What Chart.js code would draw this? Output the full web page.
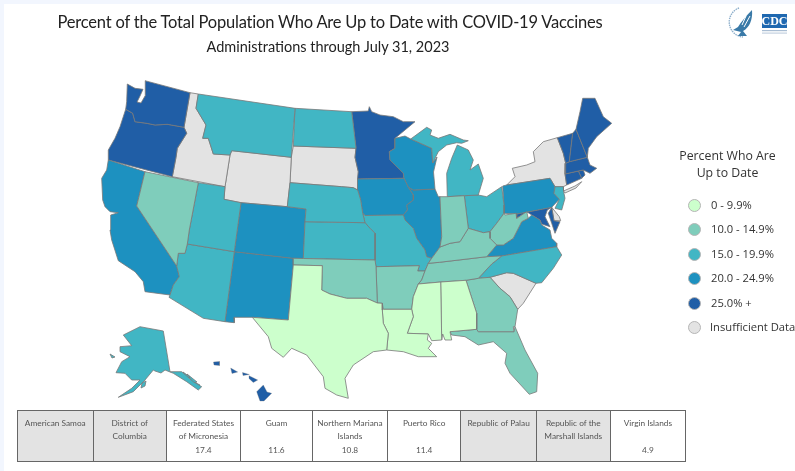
<!DOCTYPE html>
<html>
<head>
<meta charset="utf-8">
<title>Percent Up to Date</title>
<script src="https://cdn.jsdelivr.net/npm/chart.js@4"></script>
<style>
  html, body { margin: 0; padding: 0; background: #f2f6fe; overflow: hidden; }
  #page { position: absolute; left: 4px; top: 4px; width: 791px; height: 467px; background: #fff; }
  #wrap { position: absolute; left: -4px; top: -4px; width: 795px; height: 471px; }
  .t { position: absolute; white-space: nowrap; color: #222; }
  #title { left: 0; top: 12px; width: 660px; text-align: center; font: 16.5px Lato, sans-serif; letter-spacing: -0.2px; }
  #subtitle { left: 0; top: 38px; width: 656px; text-align: center; font: 14.5px Lato, sans-serif; }
  #legendTitle { left: 660px; top: 147px; width: 135px; text-align: center; font: 12.3px/17px "Open Sans", sans-serif; color: #333; }
  .dot { position: absolute; width: 11px; height: 11px; border-radius: 50%; border: 1px solid #b5b5b5; }
  .lab { position: absolute; font: 11.2px "Open Sans", sans-serif; color: #333; white-space: nowrap; }
  #terr { position: absolute; left: 17px; top: 410px; border-collapse: collapse; table-layout: fixed; width: 668px; height: 52px; font: 8.3px Lato, sans-serif; color: #555; }
  #terr td { border: 1.5px solid #666; text-align: center; vertical-align: top; padding: 6px 2px 0; position: relative; line-height: 12.5px; }
  #terr td.none { background: #e3e3e3; }
  #terr span { position: absolute; left: 0; right: 0; bottom: 5px; }
</style>
</head>
<body>
<div id="page"><div id="wrap">
  <canvas id="mapChart" width="795" height="471"></canvas>
  <div class="t" id="title">Percent of the Total Population Who Are Up to Date with COVID-19 Vaccines</div>
  <div class="t" id="subtitle">Administrations through July 31, 2023</div>
  <svg style="position:absolute;left:724px;top:5px" width="66" height="36" viewBox="0 0 66 36">
    <path d="M15 3 A15 15 0 0 0 19 32" fill="none" stroke="#8fb0cc" stroke-width="1.4" stroke-dasharray="1.5 0.8"/>
    <path d="M28 5 C22 11 17 17 14 22 L9 25 L17 27 L14 31 L23 31 L19 26 C25 23 29 15 28 5Z" fill="#3a7aa8"/>
    <path d="M22 11 L18 20 M26 11 L20 22" stroke="#fff" stroke-width="1"/>
    <rect x="38" y="9" width="25" height="14" fill="#1f68b0"/>
    <text x="50.5" y="20" text-anchor="middle" font-family="Liberation Serif" font-weight="bold" font-size="12" fill="#fff">CDC</text>
    <rect x="38" y="25" width="25" height="1.2" fill="#a9bdd3"/>
    <rect x="38" y="27.5" width="25" height="1.2" fill="#c3d1e0"/>
  </svg>
  <div class="t" id="legendTitle">Percent Who Are<br>Up to Date</div>
  <div id="legend"></div>
  <table id="terr"><colgroup id="cols"></colgroup><tr id="terrRow"></tr></table>
</div></div>
<script>
// Legend bins
const binLabels = ["0 - 9.9%", "10.0 - 14.9%", "15.0 - 19.9%", "20.0 - 24.9%", "25.0% +", "Insufficient Data"];
const binColors = ["#ccffcc", "#7fcdbb", "#41b6c4", "#1d91c0", "#205ea6", "#e3e3e3"];

// Territories table
const territories = ["American Samoa", "District of Columbia", "Federated States of Micronesia", "Guam", "Northern Mariana Islands", "Puerto Rico", "Republic of Palau", "Republic of the Marshall Islands", "Virgin Islands"];
const territoryValues = [null, null, 17.4, 11.6, 10.8, 11.4, null, null, 4.9];

// State outlines
const WA = [[145,80.7],[190,92.7],[184,127.3],[167.3,124.3],[155,125],[146.7,123.3],[135,121.7],[132.7,113.3],[125.7,109.3],[126.7,101.7],[127.3,84],[135,88.3],[143,89.3],[140,96],[137,102],[141,103],[145,96],[145.5,88]];
const OR = [[125.7,109.3],[132.7,113.3],[135,121.7],[146.7,123.3],[155,125],[167.3,124.3],[184,127.3],[186.7,133.3],[177.3,148.3],[176,157.3],[172.3,176.7],[108.3,160],[108.3,150],[115,138.3],[120,126.7]];
const ID = [[190,92.7],[198.3,94],[196,108.3],[206,125],[202.7,138.3],[208.3,138.3],[213.3,154],[230,155],[225,186.7],[172.3,176.7],[176,157.3],[177.3,148.3],[186.7,133.3],[184,127.3]];
const MT = [[198.3,94],[295,108.3],[291.3,157.3],[231.7,150.7],[230,155],[213.3,154],[208.3,138.3],[202.7,138.3],[206,125],[196,108.3]];
const ND = [[295,108.3],[351.7,111.7],[353.3,125],[356,148.3],[293.3,146]];
const SD = [[293.3,146],[356,148.3],[355,157.3],[358.3,171.7],[357.7,190],[353.3,187.7],[341.7,186.7],[290,182.7],[291.3,157.3]];
const WY = [[231.7,150.7],[291.3,157.3],[290,182.7],[287.3,206.7],[241,202.7],[224,199.3],[225,186.7],[230,155]];
const NV = [[145,171.7],[198.3,182.7],[189.3,230],[187.3,244],[185,253.3],[178.3,253.3],[176.7,266],[136.7,206]];
const CA = [[108.3,160],[145,171.7],[136.7,206],[176.7,266],[179.3,276.7],[173.3,285],[170,295],[145,291.7],[143.3,281.7],[135,271.7],[118.3,260.7],[111.7,240],[110,230],[110.7,215],[118.3,212.7],[110,211.7],[105,206.7],[102.7,200],[101.7,178.3],[106.7,170]];
const AZ = [[187.3,244],[234.3,251.7],[225,321.7],[203.3,318.3],[169,297.3],[170,295],[173.3,285],[179.3,276.7],[176.7,266],[178.3,253.3],[185,253.3]];
const UT = [[198.3,182.7],[225,186.7],[224,199.3],[241,202.7],[234.3,251.7],[187.3,244],[189.3,230]];
const CO = [[241,202.7],[287.3,206.7],[306,209],[305,221.7],[303.3,258.5],[293.3,258.3],[234.3,251.7]];
const NM = [[234.3,251.7],[293.3,258.3],[293.3,265],[288.3,320],[252.3,317.3],[234,317.3],[234.3,322.7],[225,321.7]];
const TX = [[293.3,265],[322.3,265.7],[321.7,290],[330,294],[346.7,298.3],[366.7,298.3],[377.3,303],[382.3,303.3],[382.3,310],[383.3,323.3],[388.3,333.3],[386.7,350],[373.3,351.7],[353.3,365],[345,378.3],[348.3,398.3],[336.7,395],[325,388.3],[323.3,376.7],[306.7,355],[291.7,348.3],[283.3,357.3],[271.7,348.3],[268.3,336.7],[252.3,317.3],[288.3,320]];
const OK = [[293.3,258.3],[303.3,258.5],[375,260],[376,266.7],[377.3,303],[366.7,298.3],[346.7,298.3],[330,294],[321.7,290],[322.3,265.7],[293.3,265]];
const KS = [[305,221.7],[365,222.7],[370,228.3],[375,233.3],[375,260],[303.3,258.5]];
const NE = [[290,182.7],[341.7,186.7],[353.3,187.7],[357.7,190],[360.7,200],[362.7,213.3],[365,222.7],[305,221.7],[306,209],[287.3,206.7]];
const MN = [[351.7,111.7],[368.3,111],[369.3,106.7],[371.7,111.7],[380,115],[393.3,116.7],[403.3,121.7],[415,121.7],[395,138.3],[395,148.3],[389.3,151.7],[390,160],[403.3,173.3],[404,178.3],[357.5,179],[358.3,171.7],[355,157.3],[356,148.3],[353.3,125]];
const IA = [[357.5,179],[404,178.3],[408.3,187.3],[413.3,195],[413.3,200],[406.7,205],[407.3,210],[403.3,215],[365,215.5],[362.7,213.3],[360.7,200],[357.7,190]];
const WI = [[395,138.3],[405,136],[410.7,139],[431.7,148.3],[432.7,163],[437,157],[433.5,172],[435,189],[413.3,190],[408.3,187.3],[404,178.3],[403.3,173.3],[390,160],[389.3,151.7],[395,148.3]];
const MI_U = [[410.7,139],[426.7,127.3],[431.7,130],[430,135],[438.3,138.3],[450,134.3],[463.3,140],[468.3,140.7],[461.7,143.3],[456.7,142.7],[446.7,145],[438.3,151.7],[432.7,163],[431.7,148.3]];
const MI_L = [[447.3,196.7],[446.7,173.3],[451.7,158.3],[457.3,145],[468.3,150],[473.3,160],[470,170],[478.3,164],[483.3,178.3],[478.3,195],[464.3,195.7]];
const OH = [[464.3,195.7],[478.3,195],[486.7,196.7],[501.7,186.7],[504,205],[504,213.3],[496.7,223.3],[490,231.7],[483.3,232.7],[468.3,228.3]];
const IN = [[440,196.7],[447.3,196.7],[464.3,195.7],[468.3,228.3],[460,241.7],[450,243.3],[440,247],[441.7,236.7]];
const IL = [[413.3,190],[435,189],[438.3,196.7],[440,196.7],[441.7,236.7],[440,247],[431.7,258.3],[426.7,256.7],[425,250],[416.7,238.3],[413.3,228.3],[405,220],[403.3,215],[407.3,210],[406.7,205],[413.3,200],[413.3,195],[408.3,187.3]];
const MO = [[365,215.5],[403.3,215],[405,220],[413.3,228.3],[416.7,238.3],[425,250],[426.7,256.7],[431.7,258.3],[428.3,263.3],[425,271],[417.7,271],[419.3,265.7],[376,266.7],[375,260],[375,233.3],[370,228.3],[365,222.7],[362.7,213.3]];
const AR = [[376,266.7],[419.3,265.7],[417.7,271],[425,271],[421.7,280],[418.3,284],[413.3,296.7],[411.7,309.3],[383.3,309.3],[382.3,303.3],[377.3,303]];
const LA = [[382.3,310],[383.3,309.3],[411.7,309.3],[413.3,316.7],[407.3,333.3],[428.3,334],[427.3,340],[431.7,343.3],[428.3,348.3],[436.7,356.7],[418.3,356.7],[403.3,351.7],[386.7,350],[388.3,333.3],[383.3,323.3]];
const MS = [[418.3,284],[440.7,282],[441.7,340],[431.7,340.7],[428.3,334],[407.3,333.3],[413.3,316.7],[411.7,309.3],[413.3,296.7]];
const AL = [[440.7,282],[466,280.3],[476.7,313.3],[476.7,329.3],[450,331.7],[451.7,340],[445,340],[442.7,334],[441.7,340]];
const TN = [[425,271],[428.3,263.3],[439.3,262.3],[486.7,256.7],[501.7,256],[491.7,264],[478.3,278.3],[466,280.3],[440.7,282],[418.3,284],[421.7,280]];
const KY = [[428.3,263.3],[431.7,258.3],[440,247],[450,243.3],[460,241.7],[468.3,228.3],[483.3,232.7],[490,231.7],[490,238.3],[496.7,245],[486.7,256.7],[439.3,262.3]];
const WV = [[490,231.7],[496.7,223.3],[504,213.3],[505,215],[516,213.3],[516.7,218.3],[526.7,211.7],[528.3,218.3],[521.7,221.7],[513.3,238.3],[503.3,245],[496.7,245],[490,238.3]];
const VA = [[486.7,256.7],[496.7,245],[503.3,245],[513.3,238.3],[521.7,221.7],[528.3,218.3],[531.7,215],[540,220],[541.7,225],[550,230],[551.7,238.3],[556.7,243.3],[556.7,246.7],[501.7,256]];
const NC = [[556.7,246.7],[561.7,255],[553.3,268.3],[541.7,282.7],[536,283.3],[513.3,273.3],[506.7,272.7],[490,277.3],[478.3,278.3],[491.7,264],[501.7,256]];
const SC = [[490,277.3],[506.7,272.7],[513.3,273.3],[536,283.3],[523.3,303.3],[517.7,309.3],[510,296.7],[500,288.3]];
const GA = [[466,280.3],[478.3,278.3],[490,277.3],[500,288.3],[510,296.7],[517.7,309.3],[515,326.7],[513.3,326.7],[514,331.7],[478.3,331.7],[476.7,329.3],[476.7,313.3]];
const FL = [[450,331.7],[476.7,329.3],[478.3,331.7],[514,331.7],[515,326.7],[525,350],[537.7,373.3],[536.7,391.7],[529.3,394.3],[510,373.3],[505,363.3],[506.7,353.3],[493.3,341.7],[478.3,345],[465,336.7],[451.7,335]];
const PA = [[502.7,186],[506.7,185],[550,178.3],[555,186.7],[554,193.3],[559.3,199.3],[551.7,207.3],[516.7,214],[504,213.3],[504,205]];
const NY = [[506.7,185],[515,176.7],[512.3,168.3],[526.7,165],[535,161.7],[533.3,151.7],[543.3,141.7],[557.3,137.7],[563.3,153.3],[565.7,163.3],[565,174],[566.7,185],[563.3,186.7],[555,186.7],[550,178.3]];
const NY_LI = [[563.5,191],[575,186],[581.7,181.7],[576,188],[565,193]];
const NJ = [[555,186.7],[563.3,186.7],[563.5,191],[565,198.3],[561.7,210],[555,208.3],[559.3,199.3],[554,193.3]];
const VT = [[557.3,137.7],[572.7,133.3],[569.3,161.7],[565.7,163.3],[563.3,153.3]];
const NH = [[572.7,133.3],[576,129.3],[587.3,157.3],[569.3,161.7]];
const ME = [[576,129.3],[580,111.7],[582.7,98.3],[595,98.3],[603.3,116.7],[611.7,123.3],[596.7,136.7],[588.3,148.3],[587.3,157.3]];
const MA = [[565.7,163.3],[569.3,161.7],[587.3,157.3],[590,165],[596.7,168.3],[590,173.3],[583.3,170],[578.3,171],[565,174]];
const CT = [[565,174],[578.3,171],[581.7,178.3],[566.7,185]];
const RI = [[578.3,171],[583.3,170],[585,175],[581.7,178.3]];
const MD_W = [[516.7,214],[551.7,207.3],[547.3,210],[545,216.7],[550,226.7],[541.7,224],[540,220],[531.7,215],[526.7,211.7],[516.7,218.3]];
const MD_E = [[551.7,207.3],[554,220.7],[560,221.7],[555,233.3],[551.7,223.3],[548.3,213.3]];
const DE = [[551.7,207.3],[559.3,216.7],[560.7,220.7],[554,220.7]];
const AK = [[140,326.7],[163.3,331],[170,371.7],[181.7,371.7],[193.3,381.7],[201.7,386.7],[198.3,390],[186.7,381.7],[173.3,373.3],[165,370],[161,373],[155,371],[153.3,370],[145,380],[133.3,391.7],[118.3,397.3],[131.7,388.3],[140,380],[131.7,380],[125,373.3],[116,372.7],[121.7,361.7],[130,356.7],[120,351.7],[120,346.7],[131.7,345.7],[123.3,335]];
const AK_1 = [[183,372],[190,377],[187,379]];
const AK_2 = [[187,374],[197,382],[193,383]];
const AK_3 = [[192,381],[200,385],[197,388]];
const AK_4 = [[142,383],[146,381],[145,386],[141,388]];
const AK_5 = [[110,354],[115,357],[112,358]];
const HI_1 = [[263.3,385],[267,392],[271.7,393.3],[264,401],[260,401],[256.7,391.7]];
const HI_2 = [[249,375.7],[257.7,380],[253.3,382.5],[249,378.5]];
const HI_3 = [[230.7,368],[237.7,372],[232,373.5]];
const HI_4 = [[213.5,362],[219.5,361.5],[219.5,365.5],[214,365]];
const HI_5 = [[242.5,372.5],[249.3,374.5],[243,375.5]];

// Which outlines fall in which bin, same order as binLabels
const bin0 = [TX, LA, MS, AL];
const bin10 = [NV, IN, KY, WV, TN, OK, AR, GA, FL];
const bin15 = [MT, ND, NE, KS, UT, AZ, MO, MI_U, MI_L, OH, NC, NJ, AK, AK_1, AK_2, AK_3, AK_4, AK_5];
const bin20 = [CA, CO, NM, IA, WI, IL, PA, VA];
const bin25 = [WA, OR, MN, ME, NH, VT, MA, CT, RI, MD_W, MD_E, HI_1, HI_2, HI_3, HI_4, HI_5];
const binNone = [ID, WY, SD, NY, NY_LI, SC, DE];
const bins = [bin0, bin10, bin15, bin20, bin25, binNone];
const tinyShapes = [HI_1, HI_2, HI_3, HI_4, HI_5];

const datasets = [];
bins.forEach((outlines, i) => {
  outlines.forEach((outline) => {
    datasets.push({
      data: outline.concat([outline[0]]).map((p) => ({ x: p[0], y: p[1] })),
      showLine: true,
      fill: "shape",
      backgroundColor: binColors[i],
      borderColor: "#787878",
      borderWidth: tinyShapes.includes(outline) ? 0.3 : 0.8,
      pointRadius: 0,
      tension: 0,
    });
  });
});

new Chart(document.getElementById("mapChart"), {
  type: "scatter",
  data: { datasets: datasets },
  options: {
    responsive: false,
    animation: false,
    events: [],
    layout: { padding: 0 },
    plugins: { legend: { display: false }, tooltip: { enabled: false } },
    scales: {
      x: { display: false, min: 0, max: 795 },
      y: { display: false, min: 0, max: 471, reverse: true },
    },
  },
});

// Legend on the right
const legendDiv = document.getElementById("legend");
const dotTops = [199, 223, 248, 272, 297, 321];
binLabels.forEach((label, i) => {
  legendDiv.innerHTML += `<div class="dot" style="left:688px;top:${dotTops[i]}px;background:${binColors[i]}"></div>` +
    `<div class="lab" style="left:${i === 5 ? 710 : 711}px;top:${dotTops[i] - 2}px">${label}</div>`;
});

// Territories table under the map
const colWidths = [75.6, 73.4, 74, 72, 75, 73.3, 75.7, 73.6, 75.7];
territories.forEach((name, i) => {
  document.getElementById("cols").innerHTML += `<col style="width:${colWidths[i]}px">`;
  const value = territoryValues[i];
  document.getElementById("terrRow").innerHTML += value === null
    ? `<td class="none">${name}</td>`
    : `<td>${name}<span>${value}</span></td>`;
});
</script>
</body>
</html>
